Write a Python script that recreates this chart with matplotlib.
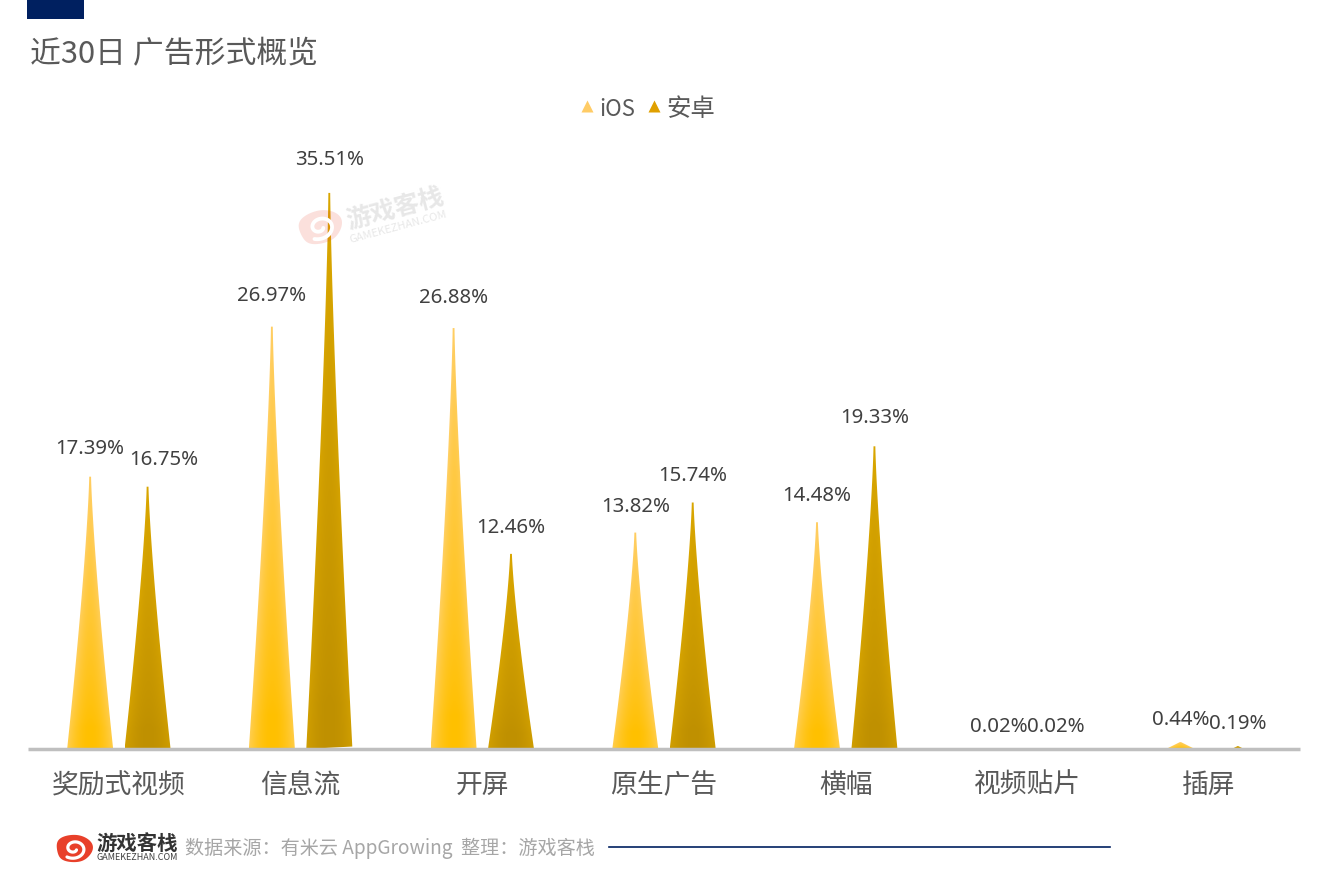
import numpy as np
import matplotlib
matplotlib.use("Agg")
import matplotlib.pyplot as plt
from matplotlib.lines import Line2D
from matplotlib.patches import Polygon, Rectangle

plt.rcParams['font.family'] = ['Noto Sans CJK SC', 'DejaVu Sans']

categories = ['奖励式视频', '信息流', '开屏', '原生广告', '横幅', '视频贴片', '插屏']
ios_values = [17.39, 26.97, 26.88, 13.82, 14.48, 0.02, 0.44]
android_values = [16.75, 35.51, 12.46, 15.74, 19.33, 0.02, 0.19]
series_names = ['iOS', '安卓']
title_text = '近30日 广告形式概览'
source_text = '数据来源：有米云 AppGrowing  整理：游戏客栈'
brand_text = '游戏客栈'
brand_url = 'GAMEKEZHAN.COM'

W, H = 1329, 878
NAVY = '#002060'
GRAY = '#595959'
fig = plt.figure(figsize=(W / 100, H / 100), dpi=100, facecolor='white')

# main chart axes, placed in pixel terms
BASE_PX, TOP_PX, L_PX, R_PX = 750, 130, 28, 1300
PX_PER_UNIT = 15.66
ax = fig.add_axes([L_PX / W, 1 - BASE_PX / H, (R_PX - L_PX) / W, (BASE_PX - TOP_PX) / H])
ax.patch.set_alpha(0)
ymax = (BASE_PX - TOP_PX) / PX_PER_UNIT
OFFSET = 0.158
HALF = 0.1266


def spike(x, v, center_rgb, top_rgb, edge_rgb):
    hw = HALF * min(1.0, v / 0.7)
    power = 1.3 if v > 1 else 1.0
    t = np.linspace(0, 1, 120)
    half = hw * ((1 - t) ** power * 0.96 + 0.04)
    lift = max(0.0, v - 25) * 0.015
    left = np.column_stack([x - half, t * v])
    right = np.column_stack([x + half, lift * (1 - t) + t * v])
    poly = Polygon(np.vstack([left, right[::-1]]), closed=True, fc='none', ec='none',
                   transform=ax.transData)
    ax.add_patch(poly)
    xx, yy = np.meshgrid(np.linspace(-1, 1, 90), np.linspace(0, 1, 300))
    dv = np.clip((yy - 0.08) / 0.92, 0, 1)
    dh = np.abs(xx) / np.maximum(((1 - yy) ** power * 0.96 + 0.04), 0.04)
    c, tp, e = map(np.array, (center_rgb, top_rgb, edge_rgb))
    img = c[None, None, :] + (tp - c)[None, None, :] * (dv[..., None] ** 0.8)
    img = img + (e - c)[None, None, :] * (dh[..., None] ** 2) * (1 - dv[..., None]) * 0.9
    im = ax.imshow(np.clip(img, 0, 1), extent=(x - hw, x + hw, 0, v), origin='lower',
                   aspect='auto', interpolation='bilinear', zorder=2)
    im.set_clip_path(poly)


def rgb(h):
    return matplotlib.colors.to_rgb(h)


ios_style = (rgb('#FFC000'), rgb('#FFCE62'), rgb('#FFCF55'))
and_style = (rgb('#BF9000'), rgb('#D9A600'), rgb('#D2A000'))
label_nudge_px = {(0, 1): 16}
for i, (a, b) in enumerate(zip(ios_values, android_values)):
    spike(i - OFFSET, a, *ios_style)
    spike(i + OFFSET, b, *and_style)
    for j, (xx, v) in enumerate(((i - OFFSET, a), (i + OFFSET, b))):
        ax.annotate(f'{v:.2f}%', (xx, v),
                    xytext=(label_nudge_px.get((i, j), 0) * 0.72, (22.5 + 0.33 * v) * 0.72),
                    textcoords='offset points', ha='center', va='center',
                    fontsize=14.7, color='#404040', zorder=5, family='Noto Sans')

ax.set_xlim(-0.5, len(categories) - 0.5)
ax.set_ylim(0, ymax)
ax.set_xticks(range(len(categories)))
ax.set_xticklabels(categories, fontsize=19.3, color=GRAY)
ax.tick_params(axis='x', length=0, pad=16)
ax.set_yticks([])
for s in ('top', 'left', 'right'):
    ax.spines[s].set_visible(False)
ax.spines['bottom'].set_color('#BFBFBF')
ax.spines['bottom'].set_linewidth(2.5)
ax.spines['bottom'].set_capstyle('butt')
ax.spines['bottom'].set_zorder(3)

handles = [Line2D([], [], ls='none', marker='^', ms=8, mec='none', mfc='#FFCC66'),
           Line2D([], [], ls='none', marker='^', ms=8, mec='none', mfc='#E0A000')]
leg = fig.legend(handles, series_names, ncol=2, frameon=False, loc='center',
                 bbox_to_anchor=(645 / W, 1 - 109 / H), fontsize=17.6, labelcolor=GRAY,
                 handletextpad=0.0, columnspacing=0.3, handlelength=1.0)
leg.get_texts()[0].set_fontsize(16)

# overlay in pixel coordinates for page furniture
ov = fig.add_axes([0, 0, 1, 1], zorder=10)
ov.set_xlim(0, W)
ov.set_ylim(H, 0)
ov.axis('off')
ov.patch.set_alpha(0)

ov.add_patch(Rectangle((27, 0), 57, 20, fc=NAVY, ec='none'))
ov.text(30, 55, title_text, fontsize=22.2, color=GRAY, va='center', ha='left')


def logo(cx, cy, s, rot_deg, color, alpha=1.0, inner='white'):
    th = np.linspace(0, 2 * np.pi, 120)
    rx = 18 * s * (1 + 0.06 * np.cos(3 * th + 0.6))
    ry = 14.5 * s * (1 + 0.06 * np.cos(2 * th))
    r = np.radians(rot_deg)
    px = rx * np.cos(th)
    py = ry * np.sin(th)
    ov.fill(cx + px * np.cos(r) - py * np.sin(r), cy + px * np.sin(r) + py * np.cos(r),
            color=color, alpha=alpha, lw=0, zorder=3)
    a = np.linspace(0.0, 2 * np.pi * 1.25, 120)
    rad = s * (2.6 + 8.2 * a / a[-1])
    qx = rad * np.cos(a + 0.6) * 1.15
    qy = rad * np.sin(a + 0.6) * 0.95
    ov.plot(cx + qx * np.cos(r) - qy * np.sin(r), cy + qx * np.sin(r) + qy * np.cos(r),
            color=inner, lw=2.3 * s, solid_capstyle='round', zorder=4)


# watermark
logo(320, 228, 1.2, -15, '#E84A35', alpha=0.17)
ov.text(395, 209, brand_text, fontsize=18, fontweight='bold', color='#E2E2E2', rotation=15,
        ha='center', va='center', rotation_mode='anchor', alpha=0.8)
ov.text(398, 227, brand_url, fontsize=8, color='#E2E2E2', rotation=15,
        ha='center', va='center', rotation_mode='anchor', alpha=0.8)

# footer
logo(74, 849.5, 1.0, 0, '#E8402A')
ov.text(137, 844, brand_text, fontsize=14.7, fontweight='bold', color='#333333', ha='center', va='center')
ov.text(137.5, 858, brand_url, fontsize=6.5, color='#404040', ha='center', va='center')
ov.text(185, 848, source_text, fontsize=13.75, color='#A6A6A6', ha='left', va='center')
ov.plot([609, 1110], [848, 848], color=NAVY, lw=1.2)

fig.savefig('out.png', dpi=100, facecolor='white')
